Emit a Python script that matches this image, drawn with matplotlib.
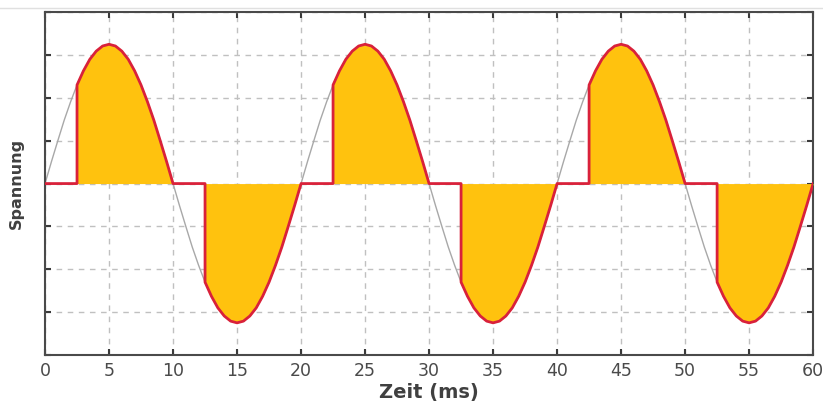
import numpy as np
import matplotlib
matplotlib.use("Agg")
import matplotlib.pyplot as plt
from matplotlib.lines import Line2D

# Time axis (ms), sampled every 0.5 ms
time_ms = [i * 0.5 for i in range(121)]

# Mains voltage samples (V), one value every 0.5 ms
voltage = [
    0, 51, 100, 148, 191, 230, 263, 290, 309, 321,
    325, 321, 309, 290, 263, 230, 191, 148, 100, 51,
    0, -51, -100, -148, -191, -230, -263, -290, -309, -321,
    -325, -321, -309, -290, -263, -230, -191, -148, -100, -51,
    0, 51, 100, 148, 191, 230, 263, 290, 309, 321,
    325, 321, 309, 290, 263, 230, 191, 148, 100, 51,
    0, -51, -100, -148, -191, -230, -263, -290, -309, -321,
    -325, -321, -309, -290, -263, -230, -191, -148, -100, -51,
    0, 51, 100, 148, 191, 230, 263, 290, 309, 321,
    325, 321, 309, 290, 263, 230, 191, 148, 100, 51,
    0, -51, -100, -148, -191, -230, -263, -290, -309, -321,
    -325, -321, -309, -290, -263, -230, -191, -148, -100, -51,
    0,
]

firing_delay_ms = 2.5   # phase-angle control delay
half_period_ms = 10.0

x_ticks = [0, 5, 10, 15, 20, 25, 30, 35, 40, 45, 50, 55, 60]
y_ticks = [-400, -300, -200, -100, 0, 100, 200, 300, 400]

# Build phase-cut waveform from the samples
cut_t, cut_v = [], []
for t, v in zip(time_ms, voltage):
    phase = t % half_period_ms
    if abs(phase - firing_delay_ms) < 1e-9:
        cut_t.append(t); cut_v.append(0)
        cut_t.append(t); cut_v.append(v)
    elif phase < firing_delay_ms:
        cut_t.append(t); cut_v.append(0)
    else:
        cut_t.append(t); cut_v.append(v)

fig = plt.figure(figsize=(8.23, 4.05), dpi=100)
ax = fig.add_axes([0.0547, 0.1235, 0.9333, 0.8465])

# thin light border line at the very top of the image
fig.add_artist(Line2D([0, 1], [0.981, 0.981], transform=fig.transFigure,
                      color="#e0e0e0", lw=1.0))

ax.plot(time_ms, voltage, color="#a8a8a8", lw=1.0, zorder=2)
ax.fill_between(cut_t, cut_v, 0, color="#FFC20E", lw=0, zorder=3)
ax.plot(cut_t, cut_v, color="#D9213A", lw=2.0, zorder=4, solid_joinstyle="round")

ax.set_xlim(0, 60)
ax.set_ylim(-400, 400)
ax.set_xticks(x_ticks)
ax.set_yticks(y_ticks)
ax.set_yticklabels([])

ax.grid(True, color="#c0c0c0", lw=1.0, dashes=(4, 4))
ax.set_axisbelow(True)

for s in ax.spines.values():
    s.set_color("#4a4a4a")
    s.set_linewidth(1.5)

ax.tick_params(axis="both", direction="in", length=4, width=1.5, color="#3a3a3a",
               top=True, right=True, labelsize=12.5, labelcolor="#4a4a4a", pad=5)

ax.set_xlabel("Zeit (ms)", fontsize=14, fontweight="bold", color="#404040", labelpad=2)
ax.set_ylabel("Spannung", fontsize=11.5, fontweight="bold", color="#404040", labelpad=0)
ax.yaxis.set_label_coords(-0.028, 0.5)

fig.savefig("out.png", dpi=100)
